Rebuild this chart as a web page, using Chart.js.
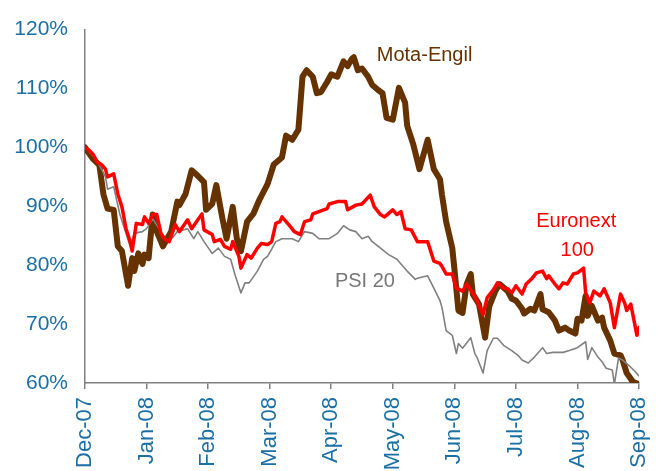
<!DOCTYPE html>
<html>
<head>
<meta charset="utf-8">
<script src="https://cdn.jsdelivr.net/npm/chart.js@4.4.1/dist/chart.umd.min.js"></script>
<style>
    html, body { margin: 0; padding: 0; background: #fff; }
</style>
</head>
<body>
<canvas id="perfChart" width="660" height="471"></canvas>

<script>
// month labels, one every 30 days on the x axis
var monthLabels = ['Dec-07', 'Jan-08', 'Feb-08', 'Mar-08', 'Apr-08', 'May-08', 'Jun-08', 'Jul-08', 'Aug-08', 'Sep-08'];
var yTicks = [60, 70, 80, 90, 100, 110, 120];

// Mota-Engil (rebased, %)
var meDays = [0, 4, 7, 9, 11, 14, 16, 18, 21, 23, 24, 26, 28, 29, 31, 33, 35, 38, 40, 42, 45, 46, 49, 52, 54, 58, 59, 62, 64, 67, 69, 72, 74, 76, 79, 82, 85, 89, 92, 96, 98, 101, 104, 106, 108, 111, 113, 115, 118, 120, 123, 126, 128, 130, 131, 133, 135, 138, 140, 143, 145, 147, 150, 153, 156, 157, 160, 163, 167, 170, 173, 174, 176, 179, 180, 182, 184, 186, 188, 189, 192, 195, 197, 200, 202, 206, 208, 210, 213, 214, 217, 219, 222, 223, 226, 229, 231, 234, 236, 239, 240, 242, 244, 245, 247, 250, 252, 253, 256, 258, 261, 262, 264, 267, 270];
var meValues = [100, 98, 97, 92, 89.6, 89.4, 83.2, 82.4, 76.5, 81.2, 79, 82, 80.2, 81.8, 81.2, 88.6, 85.7, 83.2, 84.5, 85.7, 90.8, 90.2, 92.1, 96.1, 95.5, 94.1, 89.4, 90.4, 93.6, 87.9, 84.5, 89.9, 84.5, 82.4, 87.4, 88.7, 91.1, 93.8, 97.1, 98.3, 102, 101.3, 103, 112, 113.1, 112, 109.2, 109.4, 111.1, 112.4, 112, 114.6, 113.8, 115, 115.3, 113.1, 113.4, 112, 110.6, 109.7, 109.2, 105, 104.7, 110.1, 107.6, 103.7, 100.5, 96.3, 101.3, 96.3, 94.6, 91.9, 87.4, 82.9, 79.5, 72.3, 71.9, 76.8, 78.5, 75.1, 73.4, 67.7, 73, 75.6, 76.8, 75.6, 74.3, 74, 72.6, 71.8, 72.6, 72.3, 75.1, 72.5, 72, 70.6, 68.9, 69.4, 68.9, 68.4, 70.9, 70.6, 74.8, 71.4, 73.1, 70.6, 71.1, 69.4, 67.2, 65, 64.7, 63.9, 61.7, 60.2, 59.8];

// Euronext 100
var euDays = [0, 2, 4, 6, 8, 10, 11, 14, 16, 18, 20, 22, 23, 25, 28, 29, 31, 33, 35, 37, 39, 41, 44, 46, 50, 52, 55, 57, 58, 62, 63, 66, 68, 71, 72, 75, 76, 79, 81, 84, 86, 89, 91, 93, 95, 96, 100, 102, 105, 107, 110, 111, 114, 118, 119, 123, 127, 128, 132, 135, 139, 141, 144, 146, 150, 152, 154, 156, 159, 162, 167, 170, 173, 174, 176, 179, 181, 184, 186, 189, 191, 194, 196, 199, 201, 204, 206, 208, 210, 213, 215, 218, 220, 223, 225, 226, 229, 231, 233, 235, 238, 240, 243, 244, 246, 248, 251, 253, 256, 258, 261, 263, 264, 266, 269, 270];
var euValues = [100, 99.5, 98.8, 97.5, 97.1, 96.3, 95, 95.5, 92.1, 89.9, 86.2, 84, 82.4, 87.1, 86.9, 88.2, 87.1, 88.6, 88.6, 85.4, 84.4, 84, 86.9, 85.7, 87.7, 86.2, 87.7, 88.7, 86, 85.2, 84, 84.4, 83.2, 82.7, 84, 81.5, 79.5, 81.8, 81.2, 82.9, 83.7, 83.5, 84, 87.1, 87.4, 88.2, 86.6, 85.7, 85.2, 87.4, 87.7, 88.7, 89.1, 89.6, 90.4, 90.8, 90.8, 89.4, 90.2, 90.4, 91.9, 89.9, 88.6, 88.2, 89.4, 88.6, 89.1, 86.2, 86, 84, 84, 80.7, 80.3, 79.8, 78.5, 78.5, 76.1, 75.6, 76.8, 75.3, 74, 71.6, 74.5, 75.8, 77, 76.1, 76, 75.3, 76.5, 75.1, 76.8, 77.8, 78.7, 79, 77.7, 78.2, 76.8, 76, 77, 76.8, 78.5, 78.7, 79.5, 75.3, 73.6, 75.6, 74.8, 76, 73.6, 69.4, 75.1, 73.6, 72.3, 73.4, 68.1, 69.4];

// PSI 20
var psiDays = [0, 4, 7, 10, 11, 14, 17, 19, 22, 24, 28, 30, 33, 37, 39, 41, 45, 50, 53, 55, 58, 62, 65, 68, 71, 73, 76, 78, 80, 84, 87, 89, 93, 96, 101, 104, 107, 111, 114, 119, 123, 126, 129, 132, 135, 138, 140, 144, 148, 152, 154, 157, 161, 162, 167, 170, 173, 174, 176, 179, 181, 182, 184, 188, 190, 191, 194, 196, 199, 201, 204, 208, 211, 213, 216, 219, 223, 225, 228, 233, 236, 240, 244, 245, 247, 250, 252, 254, 257, 258, 260, 262, 265, 268, 270];
var psiValues = [100, 98.5, 97, 95, 92.9, 93.3, 88.6, 86.5, 83.2, 85.4, 85.7, 86.2, 87.9, 85.7, 84.5, 84, 85.7, 86.2, 84.5, 85.7, 84, 82, 82.9, 81.5, 81, 78.5, 75.3, 77, 77, 79, 81, 81.5, 84, 84.5, 84.5, 84, 85.7, 85.4, 84.5, 84.5, 85.4, 86.7, 86, 85.7, 84.5, 84.9, 84, 82.9, 81.8, 81, 80.2, 79, 77.6, 77.8, 78.2, 76.1, 74, 72.8, 68.9, 68.1, 65, 66.7, 65.9, 67.7, 65, 64.4, 61.7, 65.5, 67.6, 67.6, 66.4, 65.5, 64.7, 63.9, 63.4, 64.4, 66, 65, 65.2, 65.2, 65.5, 66, 67, 64, 66, 64.4, 63.6, 62.5, 62.2, 59.8, 64.2, 63.9, 63, 62, 61.2];

// series names written inside the plot
var seriesNotes = [
    { text: 'Mota-Engil', day: 142.2, value: 114.6, color: '#663300', align: 'left' },
    { text: 'Euronext', day: 239.4, value: 86.5, color: '#ff0000', align: 'center' },
    { text: '100', day: 239.9, value: 81.5, color: '#ff0000', align: 'center' },
    { text: 'PSI 20', day: 121.8, value: 76.3, color: '#777777', align: 'left' }
];

var fontFamily = '"Liberation Sans", Arial, sans-serif';
var axisBlue = '#1b6fa3';
var axisGrey = '#808080';

function toPoints(days, values) {
    return days.map(function(d, i) { return { x: d, y: values[i] }; });
}

var notesPlugin = {
    id: 'seriesNotes',
    afterDatasetsDraw: function(chart) {
        var ctx = chart.ctx;
        var xs = chart.scales.x, ys = chart.scales.y;
        ctx.save();
        ctx.font = '20px ' + fontFamily;
        ctx.textBaseline = 'alphabetic';
        seriesNotes.forEach(function(n) {
            ctx.fillStyle = n.color;
            ctx.textAlign = n.align;
            ctx.fillText(n.text, xs.getPixelForValue(n.day), ys.getPixelForValue(n.value));
        });
        ctx.restore();
    }
};

var ctx = document.getElementById('perfChart').getContext('2d');
var chart = new Chart(ctx, {
    type: 'line',
    data: {
        datasets: [{
            label: 'Euronext 100',
            data: toPoints(euDays, euValues),
            borderColor: '#ff0000',
            borderWidth: 3.5,
            order: 0
        }, {
            label: 'PSI 20',
            data: toPoints(psiDays, psiValues),
            borderColor: '#808080',
            borderWidth: 1.6,
            order: 1
        }, {
            label: 'Mota-Engil',
            data: toPoints(meDays, meValues),
            borderColor: '#663300',
            borderWidth: 6,
            order: 2
        }]
    },
    options: {
        responsive: false,
        animation: false,
        layout: { padding: { top: 25, right: 21, left: 0, bottom: 0 } },
        elements: {
            point: { radius: 0 },
            line: { tension: 0, fill: false, borderJoinStyle: 'round', borderCapStyle: 'round' }
        },
        plugins: {
            legend: { display: false },
            tooltip: { enabled: false }
        },
        scales: {
            x: {
                type: 'linear',
                min: 0,
                max: 270,
                afterBuildTicks: function(scale) {
                    scale.ticks = monthLabels.map(function(l, i) { return { value: i * 30 }; });
                },
                afterFit: function(scale) {
                    scale.height = 88;
                    // rotated labels would otherwise push the plot in from the right
                    scale.paddingLeft = 0;
                    scale.paddingRight = 0;
                },
                ticks: {
                    autoSkip: false,
                    maxRotation: 90,
                    minRotation: 90,
                    padding: 8,
                    color: axisBlue,
                    font: { family: fontFamily, size: 22 },
                    callback: function(v, i) { return monthLabels[i]; }
                },
                grid: { drawOnChartArea: false, drawTicks: true, tickLength: 6, color: axisGrey, lineWidth: 1.5 },
                border: { display: true, color: axisGrey, width: 1.5 }
            },
            y: {
                min: 60,
                max: 120,
                afterBuildTicks: function(scale) {
                    scale.ticks = yTicks.map(function(v) { return { value: v }; });
                },
                afterFit: function(scale) { scale.width = 85; },
                ticks: {
                    padding: 17,
                    color: axisBlue,
                    font: { family: fontFamily, size: 21 },
                    callback: function(v) { return v + '%'; }
                },
                grid: { drawOnChartArea: false, drawTicks: false },
                border: { display: true, color: axisGrey, width: 1.5 }
            }
        }
    },
    plugins: [notesPlugin]
});
</script>
</body>
</html>
